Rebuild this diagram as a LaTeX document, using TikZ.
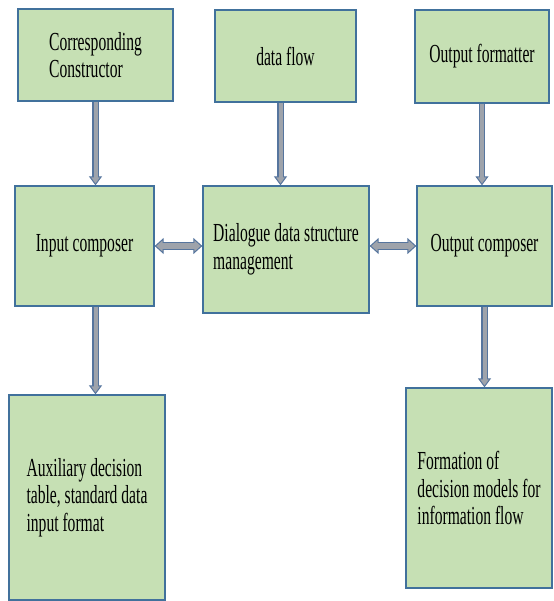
\documentclass[tikz,border=0pt]{standalone}
\usepackage{fontspec}
\setmainfont{Liberation Serif}[FakeStretch=0.6]
\usepackage{tikz}
\usetikzlibrary{arrows.meta, positioning}
\definecolor{boxgreen}{RGB}{198,224,180}
\definecolor{boxblue}{RGB}{65,113,156}
\definecolor{arrgray}{RGB}{158,163,171}
\definecolor{arrblue}{RGB}{86,117,158}

\begin{document}
\begin{tikzpicture}[x=1pt, y=-1pt,
  blk/.style={draw=boxblue, fill=boxgreen, line width=1.3pt, align=left, inner sep=0pt,
    font=\fontsize{26}{27.5}\selectfont},
  fat/.style={line width=6.5pt, draw=arrblue,
    -{Triangle[width=13pt, length=9pt, line width=1pt, fill=arrgray]},
    postaction={draw=arrgray, line width=4pt, -, shorten >=6pt}},
  fatboth/.style={line width=8pt, draw=arrblue,
    {Triangle[width=16pt, length=9pt, line width=1pt, fill=arrgray]}-{Triangle[width=16pt, length=9pt, line width=1pt, fill=arrgray]},
    postaction={draw=arrgray, line width=5.4pt, -, shorten >=6pt, shorten <=6pt}}]
\useasboundingbox (0,0) rectangle (553,601);
\node[blk, minimum width=155pt, minimum height=92pt] (ccon) at (95.5,55) {Corresponding\\Constructor};
\node[blk, minimum width=141pt, minimum height=92pt] (dflow) at (285.5,56) {data flow};
\node[blk, minimum width=134pt, minimum height=93pt] (ofmt) at (482,56.5) {Output formatter};
\node[blk, minimum width=139pt, minimum height=120pt] (icomp) at (84.5,246) {Input composer};
\node[blk, minimum width=166pt, minimum height=127pt] (dds) at (286,249.5) {Dialogue data structure\\management};
\node[blk, minimum width=135pt, minimum height=120pt] (ocomp) at (484.5,246) {Output composer};
\node[blk, minimum width=156pt, minimum height=205pt] (aux) at (87,497.5) {Auxiliary decision\\table, standard data\\input format};
\node[blk, minimum width=146pt, minimum height=200pt] (form) at (479,488) {Formation of\\decision models for\\information flow};
\draw[fat] (ccon.south) -- (ccon.south |- icomp.north);
\draw[fat] ([xshift=-5pt]dflow.south) -- ([xshift=-5pt]dflow.south |- dds.north);
\draw[fat] (ofmt.south) -- (ofmt.south |- ocomp.north);
\draw[fat] (icomp.south -| ccon.south) -- (aux.north -| ccon.south);
\draw[fat] (ocomp.south) -- (ocomp.south |- form.north);
\draw[fatboth] (icomp.east) -- (icomp.east -| dds.west);
\draw[fatboth] (dds.east |- ocomp.west) -- (ocomp.west);
\end{tikzpicture}
\end{document}
